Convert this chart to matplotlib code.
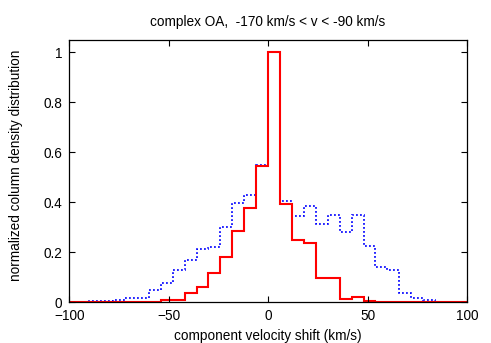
import numpy as np
import matplotlib
matplotlib.use("Agg")
import matplotlib.pyplot as plt

# histogram bins (km/s), 6 km/s wide, left edges from -90 to 78
bin_width = 6
left_edges = list(range(-90, 84, bin_width))

# dotted blue histogram
blue_vals = [0.005, 0.005, 0.008, 0.016, 0.016, 0.05, 0.075, 0.13, 0.167, 0.214,
             0.222, 0.30, 0.397, 0.428, 0.551, 1.0, 0.405, 0.346, 0.385, 0.313,
             0.348, 0.282, 0.348, 0.225, 0.140, 0.127, 0.036, 0.016, 0.008]

# solid red histogram
red_vals = [0, 0, 0, 0, 0, 0, 0.007, 0.01, 0.036, 0.059,
            0.118, 0.182, 0.285, 0.376, 0.545, 1.0, 0.393, 0.25, 0.238, 0.098,
            0.098, 0.012, 0.021, 0.004, 0, 0, 0, 0, 0]

x_ticks = [-100, -50, 0, 50, 100]
y_ticks = [0, 0.2, 0.4, 0.6, 0.8, 1]
y_tick_labels = ["0", "0.2", "0.4", "0.6", "0.8", "1"]

plt.rcParams['font.family'] = ['Liberation Sans', 'DejaVu Sans']
plt.rcParams['font.size'] = 9.8

fig = plt.figure(figsize=(4.91, 3.43), dpi=100)
ax = fig.add_axes([0.1411, 0.1195, 0.951 - 0.1411, 0.8834 - 0.1195])

# pad with empty bins so the zero line runs across the whole axis
pad = 3
edges = np.arange(left_edges[0] - pad * bin_width,
                  left_edges[-1] + bin_width * (pad + 1) + 1, bin_width)
blue = np.concatenate([np.zeros(pad), blue_vals, np.zeros(pad)])
red = np.concatenate([np.zeros(pad), red_vals, np.zeros(pad)])

ax.stairs(blue, edges, color='#0000ff', lw=1.2, linestyle=(0, (1.1, 1.3)))
ax.stairs(red, edges, color='#ff0000', lw=1.5)

ax.set_xlim(-100, 100)
ax.set_ylim(0, 1.05)
ax.set_xticks(x_ticks)
ax.set_yticks(y_ticks)
ax.set_yticklabels(y_tick_labels)
ax.tick_params(direction='in', top=True, right=True, length=4, width=0.8)
ax.tick_params(axis='x', pad=5)
ax.tick_params(axis='y', pad=5)
for s in ax.spines.values():
    s.set_linewidth(0.9)

ax.set_title('complex OA,  -170 km/s < v < -90 km/s', fontsize=9.8, pad=10)
ax.set_xlabel('component velocity shift (km/s)', labelpad=4)
ax.set_ylabel('normalized column density distribution')
ax.yaxis.set_label_coords(-0.116, 0.523)

fig.savefig('out.png', dpi=100)
